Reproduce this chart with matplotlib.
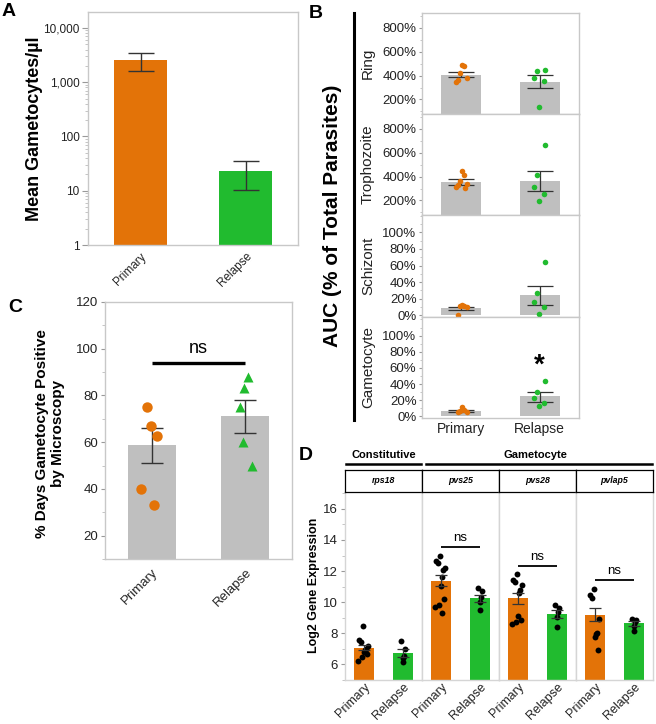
import matplotlib
matplotlib.use('Agg')
import matplotlib.pyplot as plt
import numpy as np
from matplotlib.lines import Line2D
from matplotlib.ticker import FixedLocator, MultipleLocator, NullFormatter, LogLocator, FuncFormatter

plt.rcParams['font.family'] = ['Liberation Sans', 'DejaVu Sans']

# ---------------- data ----------------
groups = ['Primary', 'Relapse']

# Panel A
a_mean = [2550, 23]
a_err_low = [1610, 10.2]
a_err_high = [3420, 35.8]
a_ticks = [1, 10, 100, 1000, 10000]
a_tick_labels = ['1', '10', '100', '1,000', '10,000']

# Panel B
b_stages = ['Ring', 'Trophozoite', 'Schizont', 'Gametocyte']
b_mean_primary = [408, 357, 8.5, 7]
b_mean_relapse = [350, 365, 24, 25]
b_err_primary = [(385, 430), (333, 383), (6, 10), (5.5, 8.5)]
b_err_relapse = [(295, 405), (283, 447), (13, 35), (18, 30.5)]
b_pts_primary = [[485, 478, 426, 381, 362, 345],
                 [444, 411, 363, 342, 327, 317, 303],
                 [12, 11.5, 11, 10.5, 0.5],
                 [12, 8.5, 7, 5, 5]]
b_pts_relapse = [[445, 440, 381, 353, 135],
                 [663, 413, 313, 253, 194],
                 [64.5, 27.4, 16.5, 10.4, 2],
                 [44.4, 30, 23, 16, 13]]

# Panel C
c_mean = [58.7, 71.2]
c_err = [(51, 66), (63.8, 78)]
c_pts_primary = [75, 66.8, 62.8, 40, 33]
c_pts_relapse = [88, 83, 75, 60, 50]

# Panel D
d_genes = ['rps18', 'pvs25', 'pvs28', 'pvlap5']
d_mean_primary = [7.04, 11.38, 10.30, 9.19]
d_mean_relapse = [6.72, 10.28, 9.23, 8.64]
d_err_primary = [(6.9, 7.23), (11.02, 11.74), (9.91, 10.62), (8.79, 9.62)]
d_err_relapse = [(6.45, 6.96), (10.02, 10.49), (8.96, 9.47), (8.49, 8.77)]
d_pts_primary = [[8.5, 7.55, 7.45, 7.2, 7.0, 6.9, 6.8, 6.65, 6.45, 6.2],
                 [12.98, 12.64, 12.53, 12.21, 12.09, 11.64, 11.04, 10.23, 9.79, 9.70, 9.30],
                 [11.8, 11.4, 11.3, 11.1, 10.8, 10.6, 9.1, 8.85, 8.7, 8.6],
                 [10.85, 10.45, 10.3, 8.9, 8.05, 7.95, 7.75, 6.9]]
d_pts_relapse = [[7.53, 7.02, 6.53, 6.43, 6.13],
                 [10.91, 10.72, 10.36, 10.0, 9.53],
                 [9.81, 9.62, 9.40, 9.06, 8.43],
                 [8.91, 8.85, 8.70, 8.49, 8.17]]
d_ns_level = [None, 13.56, 12.30, 11.43]

# ---------------- style ----------------
ORANGE = '#E37308'
GREEN = '#21BB2F'
GRAY_BAR = '#BFBFBF'
SPINE = '#C8C8C8'
ERR = '#333333'
TXT = '#222222'

W, H = 656, 724
fig = plt.figure(figsize=(W / 100, H / 100), dpi=100)


def ax_px(l, t, r, b):
    return fig.add_axes([l / W, 1 - b / H, (r - l) / W, (b - t) / H])


def style_spines(ax, color=SPINE, lw=1.0):
    for s in ax.spines.values():
        s.set_color(color)
        s.set_linewidth(lw)


JIT = [0.01, 0.03, -0.02, 0.07, -0.04, -0.07, 0.05, -0.01, 0.08, -0.05, 0.02, -0.08]
JIT_D = [-0.04, -0.14, -0.09, 0.09, 0.04, 0.02, 0.0, 0.06, -0.05, -0.16, 0.01, 0.11]

# ---------------- Panel A ----------------
axA = ax_px(88, 12, 298, 245)
x = np.arange(2)
a_mean_arr = np.array(a_mean)
axA.bar(x, a_mean_arr - 1, bottom=1, width=0.51, color=[ORANGE, GREEN])
yerr = [a_mean_arr - np.array(a_err_low), np.array(a_err_high) - a_mean_arr]
axA.errorbar(x, a_mean_arr, yerr=yerr, fmt='none', ecolor=ERR, elinewidth=1, capsize=9.5, capthick=1)
axA.set_yscale('log')
axA.set_ylim(1, 19700)
axA.set_xlim(-0.5, 1.5)
axA.yaxis.set_major_locator(FixedLocator(a_ticks))
axA.set_yticklabels(a_tick_labels)
axA.yaxis.set_minor_locator(LogLocator(base=10, subs=np.arange(2, 10)))
axA.yaxis.set_minor_formatter(NullFormatter())
axA.tick_params(axis='y', which='major', length=4, color='#999999', labelsize=8.5, labelcolor=TXT, pad=2)
axA.tick_params(axis='y', which='minor', length=2, color='#BBBBBB')
axA.set_xticks(x)
axA.set_xticklabels(groups, rotation=45, ha='right', rotation_mode='anchor', fontsize=8.5, color=TXT)
axA.tick_params(axis='x', length=0, pad=4)
style_spines(axA)
axA.set_ylabel('Mean Gametocytes/µl', fontsize=13, fontweight='bold')
axA.yaxis.set_label_coords(-0.214, 0.5)

# ---------------- Panel B ----------------
b_rows = [(13, 114), (114, 215), (215, 317), (317, 418)]
b_ylims = [(78, 925), (78, 925), (-2, 121), (-2, 123)]
for i, stage in enumerate(b_stages):
    t, b = b_rows[i]
    ax = ax_px(422, t, 579, b)
    means = [b_mean_primary[i], b_mean_relapse[i]]
    ax.bar(x, means, width=0.51, color=GRAY_BAR)
    errs = [b_err_primary[i], b_err_relapse[i]]
    ax.errorbar(x, means, yerr=[[means[k] - errs[k][0] for k in range(2)],
                                [errs[k][1] - means[k] for k in range(2)]],
                fmt='none', ecolor=ERR, elinewidth=0.9, capsize=9.5, capthick=0.9)
    pp = b_pts_primary[i]
    pr = b_pts_relapse[i]
    ax.scatter(0 + np.array(JIT[:len(pp)]), pp, s=16, color=ORANGE, zorder=3, linewidths=0)
    ax.scatter(1 + np.array(JIT[3:3 + len(pr)]), pr, s=16, color=GREEN, zorder=3, linewidths=0)
    ax.set_xlim(-0.5, 1.5)
    ax.set_ylim(*b_ylims[i])
    if i < 2:
        ax.yaxis.set_major_locator(FixedLocator([200, 400, 600, 800]))
        ax.yaxis.set_minor_locator(MultipleLocator(100))
    else:
        ax.yaxis.set_major_locator(FixedLocator([0, 20, 40, 60, 80, 100]))
        ax.yaxis.set_minor_locator(MultipleLocator(10))
    ax.yaxis.set_major_formatter(FuncFormatter(lambda v, p: f'{v:.0f}%'))
    ax.tick_params(axis='y', which='major', length=2.5, color='#999999', labelsize=9.5, labelcolor=TXT, pad=1.5)
    ax.tick_params(axis='y', which='minor', length=1.5, color='#BBBBBB')
    ax.set_xticks(x)
    if i == 3:
        ax.set_xticklabels(groups, fontsize=10, color=TXT)
        ax.text(1, 63, '*', ha='center', va='center', fontsize=20, fontweight='bold')
    else:
        ax.set_xticklabels([])
    ax.tick_params(axis='x', length=0, pad=3)
    style_spines(ax)
    ax.set_ylabel(stage, fontsize=11, color=TXT)
    ax.yaxis.set_label_coords(-0.30, 0.5)

fig.text(332 / W, 1 - 215.5 / H, 'AUC (% of Total Parasites)', rotation=90, fontsize=15,
         fontweight='bold', ha='center', va='center')
fig.add_artist(Line2D([354.3 / W, 354.3 / W], [1 - 13 / H, 1 - 420 / H], color='black', lw=2.2))

# ---------------- Panel C ----------------
axC = ax_px(105, 302, 292, 559)
axC.bar(x, c_mean, width=0.51, color=GRAY_BAR)
axC.errorbar(x, c_mean, yerr=[[c_mean[k] - c_err[k][0] for k in range(2)],
                              [c_err[k][1] - c_mean[k] for k in range(2)]],
             fmt='none', ecolor=ERR, elinewidth=1, capsize=8, capthick=1)
jit_cp = [-0.05, -0.01, 0.06, -0.11, 0.02]
jit_cr = [0.025, -0.01, -0.06, -0.02, 0.07]
axC.plot(0 + np.array(jit_cp), c_pts_primary, 'o', ms=7.5, color=ORANGE, mec='none', zorder=3)
axC.plot(1 + np.array(jit_cr), c_pts_relapse, '^', ms=7.5, color=GREEN, mec='none', zorder=3)
axC.plot([0, 1], [94, 94], color='black', lw=2.4, solid_capstyle='butt')
axC.text(0.5, 96.5, 'ns', ha='center', va='bottom', fontsize=13)
axC.set_xlim(-0.5, 1.5)
axC.set_ylim(10, 120)
axC.yaxis.set_major_locator(FixedLocator([20, 40, 60, 80, 100, 120]))
axC.yaxis.set_minor_locator(MultipleLocator(10))
axC.tick_params(axis='y', which='major', length=3, color='#999999', labelsize=9.5, labelcolor=TXT, pad=2)
axC.tick_params(axis='y', which='minor', length=2, color='#BBBBBB')
axC.set_xticks(x)
axC.set_xticklabels(groups, rotation=45, ha='right', rotation_mode='anchor', fontsize=9.5, color=TXT)
axC.tick_params(axis='x', length=0, pad=5)
style_spines(axC)
axC.set_ylabel('% Days Gametocyte Positive\nby Microscopy', fontsize=11, fontweight='bold', linespacing=1.15)
axC.yaxis.set_label_coords(-0.215, 0.49)

# ---------------- Panel D ----------------
d_left, d_right = 345, 653
d_w = (d_right - d_left) / 4
for i, gene in enumerate(d_genes):
    l = d_left + i * d_w
    r = l + d_w
    ax = ax_px(l, 491.7, r, 680)
    means = [d_mean_primary[i], d_mean_relapse[i]]
    ax.bar(x, means, width=0.52, color=[ORANGE, GREEN])
    errs = [d_err_primary[i], d_err_relapse[i]]
    ax.errorbar(x, means, yerr=[[means[k] - errs[k][0] for k in range(2)],
                                [errs[k][1] - means[k] for k in range(2)]],
                fmt='none', ecolor=ERR, elinewidth=0.9, capsize=4, capthick=0.9, zorder=4)
    pp = d_pts_primary[i]
    pr = d_pts_relapse[i]
    ax.scatter(0 + np.array(JIT_D[:len(pp)]), pp, s=18, color='black', zorder=3, linewidths=0)
    ax.scatter(1 + 0.6 * np.array(JIT_D[2:2 + len(pr)]), pr, s=18, color='black', zorder=3, linewidths=0)
    if d_ns_level[i] is not None:
        ax.plot([0, 1], [d_ns_level[i]] * 2, color='black', lw=1.3, solid_capstyle='butt')
        ax.text(0.5, d_ns_level[i] + 0.2, 'ns', ha='center', va='bottom', fontsize=9.5)
    ax.set_xlim(-0.5, 1.5)
    ax.set_ylim(5, 17.1)
    ax.yaxis.set_major_locator(FixedLocator([6, 8, 10, 12, 14, 16]))
    ax.yaxis.set_minor_locator(MultipleLocator(1))
    ax.set_xticks(x)
    ax.set_xticklabels(groups, rotation=45, ha='right', rotation_mode='anchor', fontsize=9, color=TXT)
    ax.tick_params(axis='x', length=0, pad=1)
    style_spines(ax, color='#D5D5D5')
    ax.spines['top'].set_visible(False)
    if i == 0:
        ax.tick_params(axis='y', which='major', length=3, color='#999999', labelsize=9.5, labelcolor=TXT, pad=2)
        ax.tick_params(axis='y', which='minor', length=2, color='#BBBBBB')
        ax.set_ylabel('Log2 Gene Expression', fontsize=9, fontweight='bold')
        ax.yaxis.set_label_coords(-0.325, 0.5)
    else:
        ax.tick_params(axis='y', which='both', length=0, labelleft=False)
    # strip
    sax = ax_px(l, 470, r, 491.7)
    sax.set_xticks([])
    sax.set_yticks([])
    for s in sax.spines.values():
        s.set_color('black')
        s.set_linewidth(0.9)
    sax.text(0.5, 0.5, gene, ha='center', va='center', fontsize=6.3, fontstyle='italic',
             fontweight='bold', transform=sax.transAxes)

# group headers
fig.add_artist(Line2D([346 / W, 421 / W], [1 - 464.3 / H] * 2, color='black', lw=1.8))
fig.add_artist(Line2D([425.7 / W, 652 / W], [1 - 464.3 / H] * 2, color='black', lw=1.8))
fig.text(383.5 / W, 1 - 455 / H, 'Constitutive', ha='center', va='center', fontsize=8, fontweight='bold')
fig.text(535 / W, 1 - 455 / H, 'Gametocyte', ha='center', va='center', fontsize=8, fontweight='bold')

# panel letters
fig.text(9 / W, 1 - 12 / H, 'A', fontsize=14, fontweight='bold', ha='center', va='center')
fig.text(316 / W, 1 - 14 / H, 'B', fontsize=14, fontweight='bold', ha='center', va='center')
fig.text(15 / W, 1 - 307 / H, 'C', fontsize=14, fontweight='bold', ha='center', va='center')
fig.text(306 / W, 1 - 455 / H, 'D', fontsize=14, fontweight='bold', ha='center', va='center')

fig.savefig('out.png', dpi=100)
